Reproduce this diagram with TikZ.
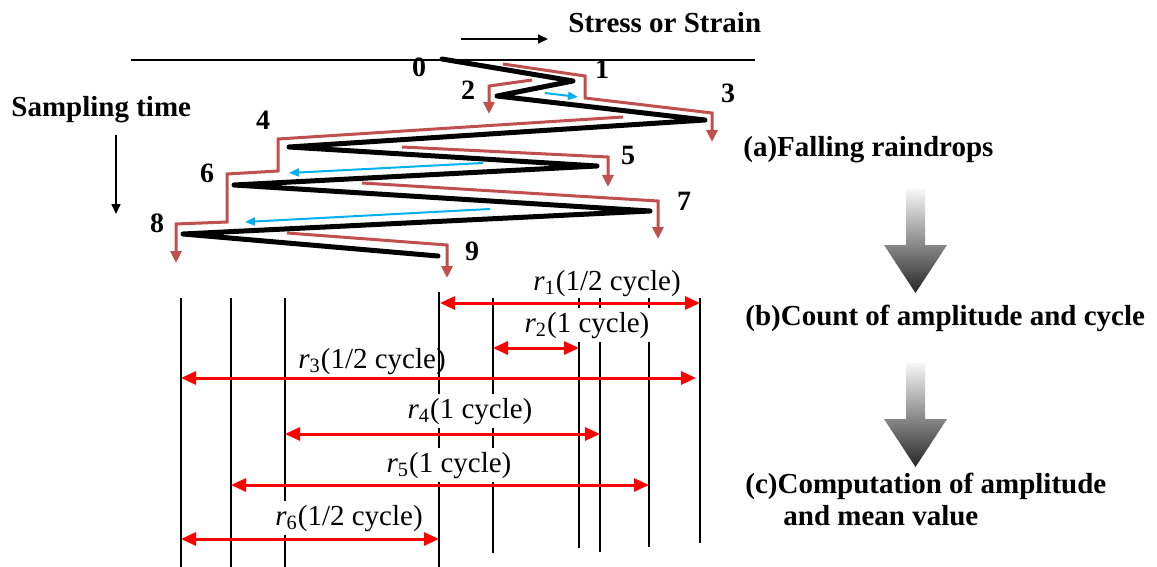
\documentclass[tikz,border=0pt]{standalone}
\usepackage{fontspec}
\setmainfont{Liberation Serif}
\usetikzlibrary{arrows.meta}
\definecolor{droprd}{RGB}{192,80,77}
\definecolor{flowcy}{RGB}{0,176,240}
\begin{document}
\begin{tikzpicture}[x=0.5pt,y=-0.5pt,
  heading/.style={font=\fontsize{14.5}{17}\selectfont\bfseries, inner sep=0pt, anchor=base west},
  digit/.style={font=\fontsize{14}{16}\selectfont\bfseries, inner sep=0pt, anchor=base},
  rlabel/.style={font=\fontsize{14.5}{17}\selectfont, inner sep=2pt, anchor=base},
  masked/.style={rlabel, fill=white},
  axisline/.style={line width=1pt},
  pointer/.style={line width=0.8pt, -{Triangle[length=5pt,width=4.5pt]}},
  history/.style={line width=2.5pt, line cap=round, line join=round},
  drop/.style={droprd, line width=1.5pt, line join=miter, -{Triangle[length=6pt,width=5.5pt]}},
  flow/.style={flowcy, line width=1pt, -{Triangle[length=5pt,width=4pt]}},
  vline/.style={line width=1pt},
  spanarrow/.style={red, line width=1.5pt, {Triangle[length=7.5pt,width=6.5pt]}-{Triangle[length=7.5pt,width=6.5pt]}},
  stage/.style={top color=gray!6, bottom color=black!85, draw=none}
]
\fill[white] (0,0) rectangle (1157,567);
\path[use as bounding box] (0,0) rectangle (1157,567);

% axes and their captions
\coordinate (axL) at (131,60);
\coordinate (axR) at (755,60);
\draw[axisline] (axL) -- (axR);
\coordinate (sA) at (461,39);
\coordinate (sB) at (548,39);
\draw[pointer] (sA) -- (sB);
\node[heading] (stress) at (568,33) {Stress or Strain};
\node[heading] (samp) at (11,117) {Sampling time};
\coordinate (tA) at (116,135);
\coordinate (tB) at (116,214);
\draw[pointer] (tA) -- (tB);

% load history turning points
\coordinate (p0) at (442,59);
\coordinate (p1) at (573,81);
\coordinate (p2) at (497,96);
\coordinate (p3) at (705,120);
\coordinate (p4) at (289,147);
\coordinate (p5) at (597,166);
\coordinate (p6) at (234,185);
\coordinate (p7) at (650,211);
\coordinate (p8) at (183,234);
\coordinate (p9) at (438,256);

% raindrop flows
\draw[drop] (503,64) -- (585,76) -- (585,98) -- (712,113) -- (712,142);
\draw[drop] (532,80) -- (489,86) -- (489,114);
\draw[drop] (623,117) -- (278,139) -- (278,171) -- (227,174) -- (227,222) -- (176,224) -- (176,263);
\draw[drop] (402,147) -- (608,157) -- (608,187);
\draw[drop] (362,183) -- (658,201) -- (658,239);
\draw[drop] (287,233) -- (447,245) -- (447,278);

% interrupted flows
\coordinate (c1a) at (545,93);
\coordinate (c1b) at (578,97);
\coordinate (c2a) at (483,163);
\coordinate (c2b) at (289,173);
\coordinate (c3a) at (490,209);
\coordinate (c3b) at (245,222);
\draw[flow] (c1a) -- (c1b);
\draw[flow] (c2a) -- (c2b);
\draw[flow] (c3a) -- (c3b);

% the history itself
\draw[history] (p0) -- (p1) -- (p2) -- (p3) -- (p4) -- (p5) -- (p6) -- (p7) -- (p8) -- (p9);

% point numbers
\node[digit] (l0) at (419,77) {0};
\node[digit] (l1) at (602,79) {1};
\node[digit] (l2) at (468,100) {2};
\node[digit] (l3) at (728,103) {3};
\node[digit] (l4) at (263,130) {4};
\node[digit] (l5) at (628,164) {5};
\node[digit] (l6) at (207,183) {6};
\node[digit] (l7) at (684,211) {7};
\node[digit] (l8) at (157,233) {8};
\node[digit] (l9) at (472,260) {9};

% level lines of the turning points
\foreach \n/\x/\t/\b in {v8/181/298/567, v6/231/298/567, v4/285/298/567,
                         v9/439/292/567, v2/493/298/553, v1/579/298/548,
                         v5/600/298/552, v7/649/298/547, v3/700/298/543}{
  \coordinate (\n t) at (\x,\t);
  \coordinate (\n b) at (\x,\b);
  \draw[vline] (\n t) -- (\n b);
}

% counted ranges
\node[rlabel] (r1) at (607,290) {\textit{r}\textsubscript{1}(1/2 cycle)};
\node[masked] (r2) at (587,332) {\textit{r}\textsubscript{2}(1 cycle)};
\node[rlabel] (r3) at (372,368) {\textit{r}\textsubscript{3}(1/2 cycle)};
\node[masked] (r4) at (470,418) {\textit{r}\textsubscript{4}(1 cycle)};
\node[masked] (r5) at (449,472) {\textit{r}\textsubscript{5}(1 cycle)};
\node[masked] (r6) at (349,525) {\textit{r}\textsubscript{6}(1/2 cycle)};

\coordinate (a1) at (440,303);  \coordinate (b1) at (700,303);
\coordinate (a2) at (493,348);  \coordinate (b2) at (579,348);
\coordinate (a3) at (181,378);  \coordinate (b3) at (696,378);
\coordinate (a4) at (285,434);  \coordinate (b4) at (600,434);
\coordinate (a5) at (231,485);  \coordinate (b5) at (649,485);
\coordinate (a6) at (181,539);  \coordinate (b6) at (439,539);
\foreach \i in {1,...,6}{ \draw[spanarrow] (a\i) -- (b\i); }

% procedure steps
\node[heading] (sa) at (743,156) {(a)Falling raindrops};
\shade[stage] (906,189) -- (925,189) -- (925,245) -- (947,245) -- (915.5,293) -- (884,245) -- (906,245) -- cycle;
\node[heading] (sb) at (745,325) {(b)Count of amplitude and cycle};
\shade[stage] (906,363) -- (925,363) -- (925,419) -- (947,419) -- (915.5,467) -- (884,419) -- (906,419) -- cycle;
\node[heading] (sc) at (745,493) {(c)Computation of amplitude};
\node[heading] (sc2) at (783,525) {and mean value};
\end{tikzpicture}
\end{document}
